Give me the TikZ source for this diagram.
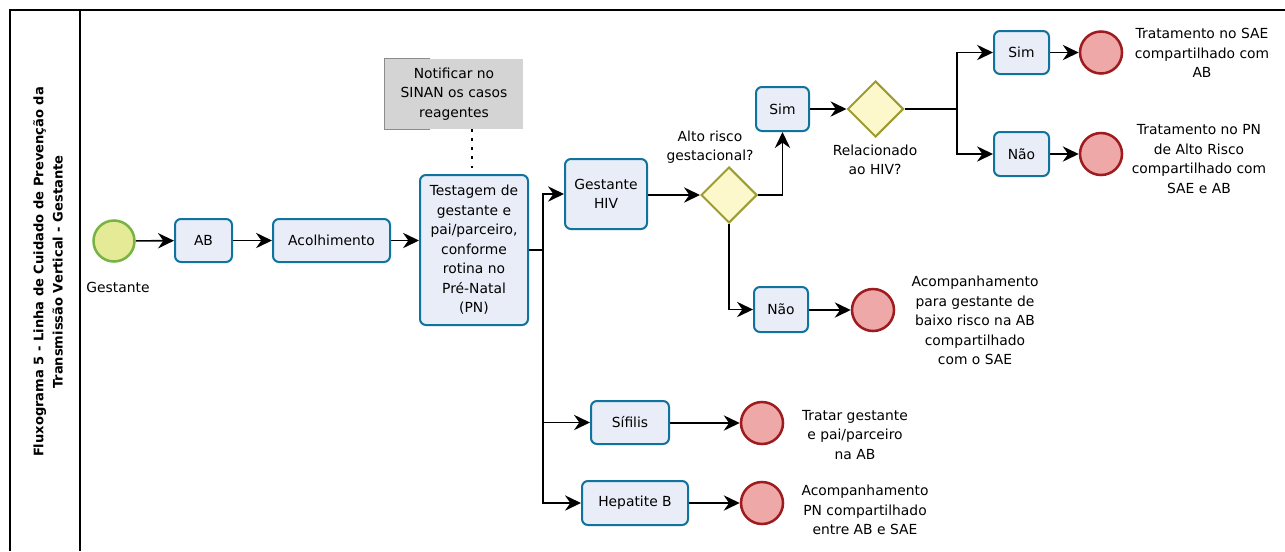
\documentclass[tikz,border=0pt]{standalone}
\usepackage{fontspec}
\setmainfont{DejaVu Sans}
\usetikzlibrary{shapes.geometric,arrows.meta}

\definecolor{taskfill}{HTML}{E9EDF7}
\definecolor{taskline}{HTML}{10739E}
\definecolor{gatefill}{HTML}{FCF8CC}
\definecolor{gateline}{HTML}{9C9C30}
\definecolor{endfill}{HTML}{EFA8A8}
\definecolor{endline}{HTML}{9E1C20}
\definecolor{startfill}{HTML}{E4EA95}
\definecolor{startline}{HTML}{78B343}
\definecolor{notefill}{HTML}{D4D4D4}
\definecolor{noteline}{HTML}{8C8C8C}

\newcommand\pxu{0.75pt}

\begin{document}
\begin{tikzpicture}[x=0.75pt,y=-0.75pt,
  font=\fontsize{10.4pt}{14.6pt}\selectfont,
  task/.style={draw=taskline, fill=taskfill, line width=1.5pt,
    rounded corners=4.5pt, align=center, inner sep=0pt},
  gate/.style={diamond, draw=gateline, fill=gatefill, line width=1.5pt,
    minimum width=56*\pxu, minimum height=56*\pxu, inner sep=0pt},
  endev/.style={circle, draw=endline, fill=endfill, line width=1.9pt,
    minimum size=42*\pxu, inner sep=0pt},
  startev/.style={circle, draw=startline, fill=startfill, line width=1.9pt,
    minimum size=41*\pxu, inner sep=0pt},
  flow/.style={line width=1.2pt, -{Stealth[length=12pt,width=11.5pt,inset=4pt]}},
  plainline/.style={line width=1.2pt},
  lbl/.style={align=center, inner sep=0pt},
  frame/.style={line width=1.1pt}]

\useasboundingbox (0,0) rectangle (1285,551);

% pool frame and title lane
\draw[frame] (10,551) -- (10,10) -- (1285,10);
\draw[frame] (80,10) -- (80,551);
\node[rotate=90, lbl, font=\fontsize{9.8pt}{14.6pt}\selectfont\bfseries]
  (title) at (48,272) {Fluxograma 5 - Linha de Cuidado de Prevenção da\\Transmissão Vertical - Gestante};

% start
\node[startev] (start) at (114,241) {};
\node[lbl] (startlbl) at (118,287) {Gestante};

% main chain
\node[task, minimum width=57*\pxu, minimum height=43*\pxu] (ab) at (203.5,240.5) {AB};
\node[task, minimum width=117*\pxu, minimum height=43*\pxu] (acol) at (331.5,240.5) {Acolhimento};
\node[task, minimum width=108*\pxu, minimum height=150*\pxu] (test) at (474,250)
  {Testagem de\\gestante e\\pai/parceiro,\\conforme\\rotina no\\Pré-Natal\\(PN)};

% annotation
\node[fill=notefill, minimum width=138*\pxu, minimum height=70*\pxu, lbl] (note) at (454,94)
  {Notificar no\\SINAN os casos\\reagentes};
\draw[noteline, line width=1pt] ([xshift=45*\pxu]note.north west) -- (note.north west)
  -- (note.south west) -- ([xshift=45*\pxu]note.south west);
\draw[line width=2.2pt, dash pattern=on 2.2pt off 4.6pt]
  ([xshift=-2*\pxu]test.north |- note.south) -- ([xshift=-2*\pxu]test.north);

\draw[flow] (start) -- (ab);
\draw[flow] (ab) -- (acol);
\draw[flow] (acol.east) -- (acol.east -| test.west);

% branches after testing
\coordinate (split1) at (543,250);
\node[task, minimum width=82*\pxu, minimum height=70*\pxu] (hiv) at (606,194) {Gestante\\HIV};
\node[task, minimum width=78*\pxu, minimum height=43*\pxu] (sif) at (630,422.5) {Sífilis};
\node[task, minimum width=106*\pxu, minimum height=44*\pxu] (hep) at (635,503) {Hepatite B};

\draw[plainline] (test.east |- split1) -- (split1);
\draw[flow] (split1) |- (hiv.west);
\draw[flow] (split1) |- (sif.west);
\draw[flow] (split1) |- (hep.west);

% HIV pathway
\node[gate] (d1) at (729,195) {};
\node[lbl] (d1lbl) at (710,147) {Alto risco\\gestacional?};
\node[task, minimum width=53*\pxu, minimum height=44*\pxu] (sim1) at (782.5,109) {Sim};
\node[task, minimum width=54*\pxu, minimum height=45*\pxu] (nao1) at (781,309.5) {Não};
\node[endev] (end1) at (873,310) {};
\node[lbl] (end1lbl) at (975,320.5)
  {Acompanhamento\\para gestante de\\baixo risco na AB\\compartilhado\\com o SAE};

\draw[flow] (hiv.east |- d1) -- (d1.west);
\draw[flow] (d1.east) -| (sim1.south);
\draw[flow] (d1.south) |- (nao1.west);
\draw[flow] (nao1.east |- end1) -- (end1.west);

\node[gate] (d2) at (875.5,109) {};
\node[lbl] (d2lbl) at (875,160) {Relacionado\\ao HIV?};
\draw[flow] (sim1.east) -- (d2.west);

\coordinate (split2) at (957,109);
\node[task, minimum width=55*\pxu, minimum height=43*\pxu] (sim2) at (1021.5,52.5) {Sim};
\node[task, minimum width=55*\pxu, minimum height=44*\pxu] (nao2) at (1021.5,154) {Não};
\node[endev] (end2) at (1101,52.5) {};
\node[endev] (end3) at (1101,154) {};
\node[lbl] (end2lbl) at (1202,53) {Tratamento no SAE\\compartilhado com\\AB};
\node[lbl] (end3lbl) at (1199,159) {Tratamento no PN\\de Alto Risco\\compartilhado com\\SAE e AB};

\draw[plainline] (d2.east) -- (split2);
\draw[flow] (split2) |- (sim2.west);
\draw[flow] (split2) |- (nao2.west);
\draw[flow] (sim2) -- (end2);
\draw[flow] (nao2) -- (end3);

% syphilis and hepatitis B
\node[endev] (end4) at (762,423) {};
\node[endev] (end5) at (762,503) {};
\node[lbl] (end4lbl) at (855,435) {Tratar gestante\\e pai/parceiro\\na AB};
\node[lbl] (end5lbl) at (865,510) {Acompanhamento\\PN compartilhado\\entre AB e SAE};

\draw[flow] (sif.east |- end4) -- (end4.west);
\draw[flow] (hep.east |- end5) -- (end5.west);

\end{tikzpicture}
\end{document}
